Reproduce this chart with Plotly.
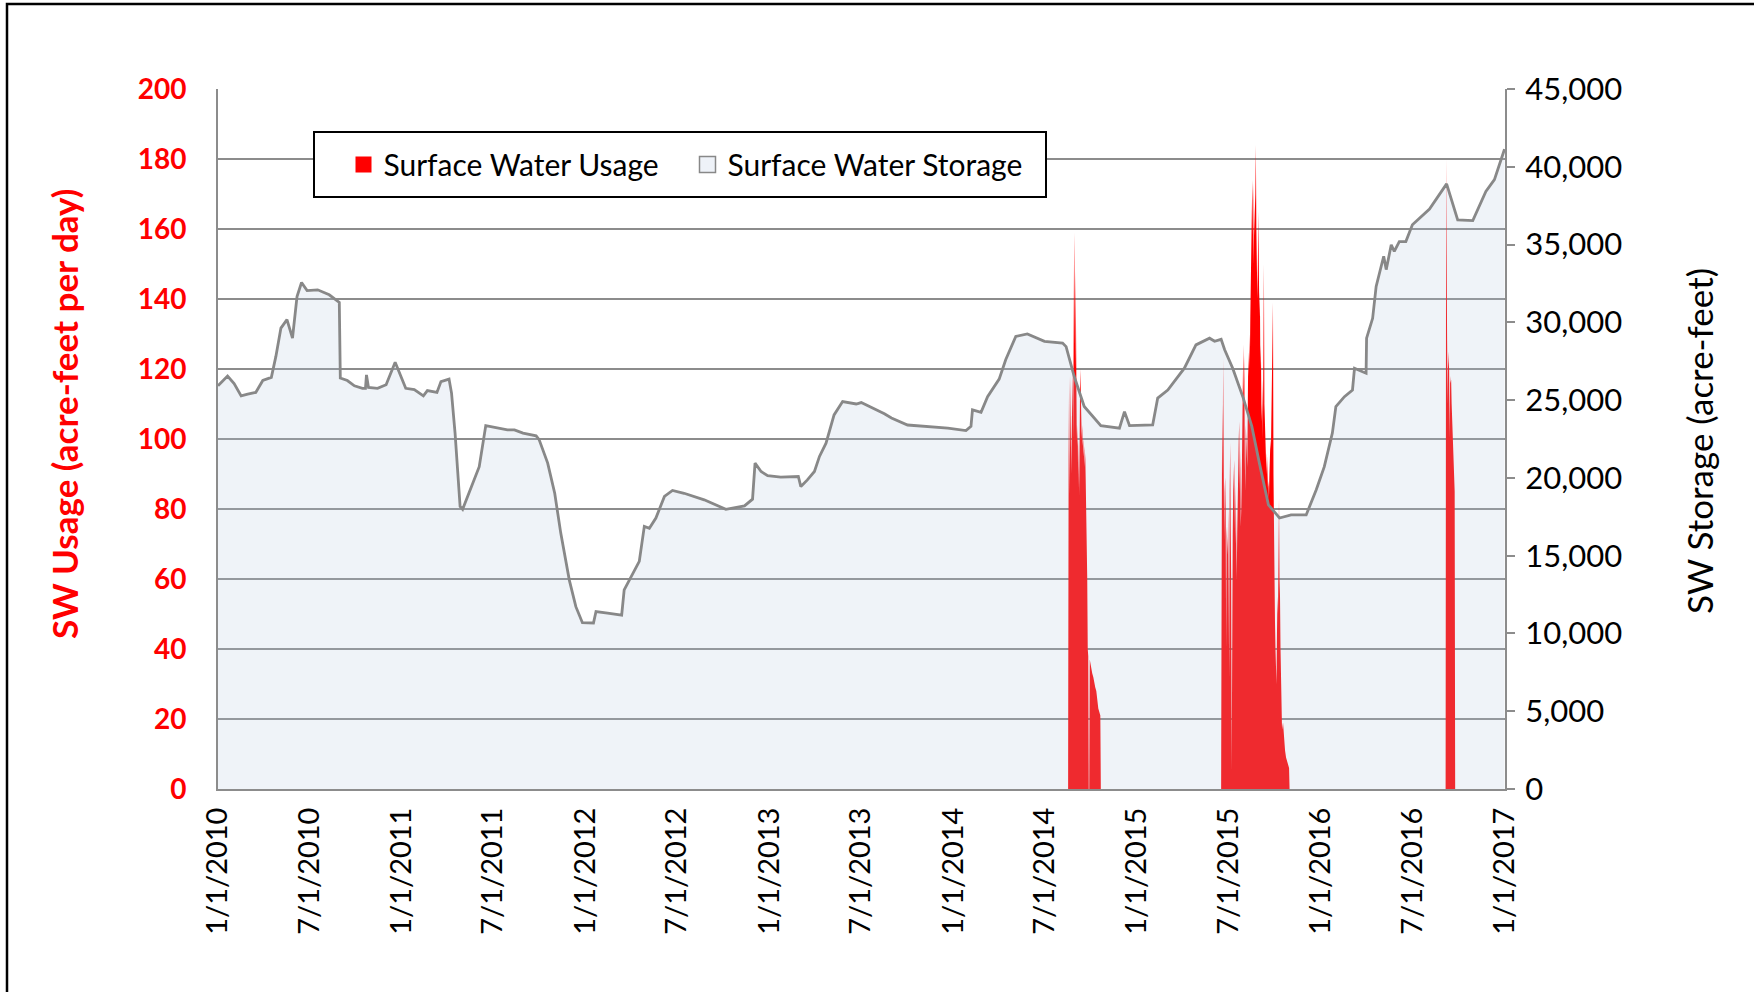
import plotly.graph_objects as go

# ---------------- data ----------------
storage_dates = [
    "2010-01-01", "2010-01-10", "2010-01-20", "2010-02-02", "2010-02-16", "2010-03-01", "2010-03-17",
    "2010-03-31", "2010-04-17", "2010-04-26", "2010-05-06", "2010-05-18", "2010-05-29", "2010-06-07",
    "2010-06-16", "2010-06-27", "2010-07-18", "2010-08-10", "2010-08-30", "2010-09-01", "2010-09-15",
    "2010-09-29", "2010-10-15", "2010-10-21", "2010-10-23", "2010-10-27", "2010-11-14", "2010-12-01",
    "2010-12-19", "2011-01-09", "2011-01-26", "2011-02-13", "2011-02-21", "2011-03-12", "2011-03-20",
    "2011-04-05", "2011-04-10", "2011-04-17", "2011-04-27", "2011-05-02", "2011-05-15", "2011-05-25",
    "2011-06-04", "2011-06-17", "2011-07-10", "2011-07-30", "2011-08-13", "2011-08-30", "2011-09-25",
    "2011-10-01", "2011-10-18", "2011-11-01", "2011-11-13", "2011-11-30", "2011-12-13", "2011-12-26",
    "2012-01-17", "2012-01-22", "2012-02-14", "2012-03-13", "2012-03-18", "2012-04-04", "2012-04-17",
    "2012-04-27", "2012-05-07", "2012-05-20", "2012-06-06", "2012-06-22", "2012-07-15", "2012-08-24",
    "2012-10-06", "2012-11-12", "2012-11-28", "2012-12-03", "2012-12-15", "2012-12-28", "2013-01-23",
    "2013-02-27", "2013-03-04", "2013-03-17", "2013-03-31", "2013-04-10", "2013-04-23", "2013-05-09",
    "2013-05-26", "2013-06-22", "2013-07-02", "2013-08-17", "2013-08-31", "2013-10-02", "2013-11-04",
    "2013-12-21", "2014-01-26", "2014-02-05", "2014-02-08", "2014-02-25", "2014-03-10", "2014-04-02",
    "2014-04-15", "2014-05-05", "2014-05-28", "2014-07-01", "2014-08-06", "2014-08-13", "2014-08-29",
    "2014-09-18", "2014-10-21", "2014-11-27", "2014-12-07", "2014-12-17", "2015-02-01", "2015-02-11",
    "2015-03-03", "2015-04-05", "2015-04-28", "2015-05-25", "2015-06-04", "2015-06-17", "2015-06-24",
    "2015-07-10", "2015-07-31", "2015-08-17", "2015-09-01", "2015-09-19", "2015-10-11", "2015-11-03",
    "2015-12-03", "2015-12-23", "2016-01-08", "2016-01-24", "2016-01-31", "2016-02-17", "2016-03-04",
    "2016-03-08", "2016-03-24", "2016-03-31", "2016-04-01", "2016-04-13", "2016-04-20", "2016-05-05",
    "2016-05-10", "2016-05-20", "2016-05-26", "2016-06-05", "2016-06-18", "2016-07-01", "2016-08-04",
    "2016-09-07", "2016-09-29", "2016-10-29", "2016-11-24", "2016-12-11", "2016-12-31",
]
storage_af = [
    25920, 26190, 26550, 26060, 25270, 25380, 25490,
    26260, 26460, 27810, 29630, 30170, 28980, 31660,
    32560, 32040, 32090, 31770, 31280, 26420, 26260,
    25920, 25760, 25760, 26620, 25810, 25760, 25990,
    27430, 25760, 25670, 25270, 25610, 25490, 26190,
    26350, 25450, 22880, 18160, 17980, 19010, 19870,
    20720, 23360, 23200, 23090, 23090, 22880, 22700,
    22460, 20950, 19010, 16450, 13430, 11720, 10690,
    10670, 11410, 11300, 11180, 12800, 13880, 14630,
    16880, 16760, 17420, 18810, 19190, 19010, 18590,
    17980, 18200, 18630, 20950, 20410, 20140, 20050,
    20090, 19440, 19870, 20410, 21380, 22230, 24050,
    24910, 24750, 24840, 24120, 23850, 23400, 23310,
    23200, 23040, 23310, 24370, 24210, 25220, 26350,
    27590, 29090, 29250, 28780, 28670, 28440, 26530,
    24590, 23360, 23200, 24260, 23360, 23400, 25130,
    25650, 27050, 28550, 28980, 28780, 28910, 28240,
    27050, 25130, 23310, 20950, 18270, 17420, 17620,
    17620, 19240, 20720, 22880, 24590, 25220, 25650,
    27050, 26820, 26730, 28980, 30260, 32310, 34250,
    33390, 34990, 34560, 35190, 35190, 36270, 37280,
    38900, 36590, 36540, 38410, 39170, 41130,
]

usage_dates = [
    "2010-01-01", "2014-08-17",
    "2014-08-18", "2014-08-19", "2014-08-20", "2014-08-21", "2014-08-22", "2014-08-23", "2014-08-24",
    "2014-08-25", "2014-08-26", "2014-08-27", "2014-08-28", "2014-08-29", "2014-08-30", "2014-08-31",
    "2014-09-01", "2014-09-02", "2014-09-03", "2014-09-04", "2014-09-05", "2014-09-06", "2014-09-07",
    "2014-09-08", "2014-09-09", "2014-09-10", "2014-09-11", "2014-09-12", "2014-09-13", "2014-09-14",
    "2014-09-15", "2014-09-16", "2014-09-17", "2014-09-18", "2014-09-19", "2014-09-20", "2014-09-21",
    "2014-09-22", "2014-09-23", "2014-09-24", "2014-09-25", "2014-09-26", "2014-09-27", "2014-09-28",
    "2014-09-29", "2014-09-30", "2014-10-02", "2014-10-04", "2014-10-06", "2014-10-08", "2014-10-10",
    "2014-10-12", "2014-10-14", "2014-10-16", "2014-10-18", "2014-10-20", "2014-10-21",
    "2015-06-17",
    "2015-06-18", "2015-06-19", "2015-06-20", "2015-06-21", "2015-06-22", "2015-06-23", "2015-06-24",
    "2015-06-25", "2015-06-26", "2015-06-27", "2015-06-28", "2015-06-29", "2015-06-30", "2015-07-01",
    "2015-07-02", "2015-07-03", "2015-07-04", "2015-07-05", "2015-07-06", "2015-07-07", "2015-07-08",
    "2015-07-09", "2015-07-10", "2015-07-11", "2015-07-12", "2015-07-13", "2015-07-14", "2015-07-15",
    "2015-07-16", "2015-07-17", "2015-07-18", "2015-07-19", "2015-07-20", "2015-07-21", "2015-07-22",
    "2015-07-23", "2015-07-24", "2015-07-25", "2015-07-26", "2015-07-27", "2015-07-28", "2015-07-29",
    "2015-07-30", "2015-07-31", "2015-08-01", "2015-08-02", "2015-08-03", "2015-08-04", "2015-08-05",
    "2015-08-06", "2015-08-07", "2015-08-08", "2015-08-09", "2015-08-10", "2015-08-11", "2015-08-12",
    "2015-08-13", "2015-08-14", "2015-08-15", "2015-08-16", "2015-08-17", "2015-08-18", "2015-08-19",
    "2015-08-20", "2015-08-21", "2015-08-22", "2015-08-23", "2015-08-24", "2015-08-25", "2015-08-26",
    "2015-08-27", "2015-08-28", "2015-08-29", "2015-08-30", "2015-08-31", "2015-09-01", "2015-09-02",
    "2015-09-03", "2015-09-04", "2015-09-05", "2015-09-06", "2015-09-07", "2015-09-08", "2015-09-09",
    "2015-09-10", "2015-09-11", "2015-09-12", "2015-09-13", "2015-09-14", "2015-09-15", "2015-09-16",
    "2015-09-17", "2015-09-18", "2015-09-19", "2015-09-20", "2015-09-21", "2015-09-22", "2015-09-23",
    "2015-09-24", "2015-09-25", "2015-09-26", "2015-09-27", "2015-09-28", "2015-09-29", "2015-09-30",
    "2015-10-01", "2015-10-02", "2015-10-03", "2015-10-04", "2015-10-05", "2015-10-06", "2015-10-07",
    "2015-10-08", "2015-10-09", "2015-10-10", "2015-10-11", "2015-10-12", "2015-10-13", "2015-10-14",
    "2015-10-15", "2015-10-16", "2015-10-18", "2015-10-20", "2015-10-22", "2015-10-24", "2015-10-27",
    "2015-10-30", "2015-10-31",
    "2016-09-05",
    "2016-09-06", "2016-09-07", "2016-09-08", "2016-09-09", "2016-09-10", "2016-09-11", "2016-09-12",
    "2016-09-13", "2016-09-14", "2016-09-15", "2016-09-16", "2016-09-17", "2016-09-18", "2016-09-19",
    "2016-09-20", "2016-09-21", "2016-09-22", "2016-09-23", "2016-09-24",
    "2017-01-01",
]
usage_afd = [
    0, 0,
    95, 118, 84, 112, 118, 90, 110,
    105, 120, 100, 145, 159, 140, 120,
    148, 110, 104, 98, 104, 86, 100,
    84, 112, 120, 115, 105, 100, 104,
    98, 100, 95, 98, 92, 96, 88,
    80, 78, 60, 40, 38, 0, 0,
    37, 36, 35, 33, 32, 30, 29,
    28, 25, 23, 22, 21, 0,
    0,
    60, 110, 90, 123, 95, 71, 85,
    89, 80, 40, 75, 70, 67, 80,
    60, 32, 85, 99, 75, 60, 5,
    65, 72, 85, 90, 94, 80, 70,
    87, 78, 60, 73, 88, 95, 100,
    105, 85, 97, 75, 80, 89, 110,
    118, 127, 110, 124, 95, 85, 104,
    98, 100, 92, 110, 125, 118, 130,
    120, 135, 142, 155, 165, 174, 160,
    150, 173, 158, 165, 170, 184, 160,
    154, 140, 150, 165, 148, 135, 142,
    120, 127, 110, 105, 117, 100, 125,
    150, 110, 104, 95, 98, 90, 96,
    92, 86, 88, 83, 90, 95, 100,
    97, 105, 120, 130, 139, 90, 67,
    55, 48, 40, 35, 30, 45, 55,
    50, 60, 83, 60, 55, 40, 25,
    20, 17, 19, 14, 11, 9, 7,
    6, 0,
    0,
    180, 132, 128, 110, 125, 122, 120,
    100, 118, 116, 117, 110, 105, 100,
    96, 92, 89, 85, 0,
    0,
]

x_tick_dates = [
    "2010-01-01", "2010-07-01", "2011-01-01", "2011-07-01", "2012-01-01", "2012-07-01",
    "2013-01-01", "2013-07-01", "2014-01-01", "2014-07-01", "2015-01-01", "2015-07-01",
    "2016-01-01", "2016-07-01", "2017-01-01",
]
x_tick_labels = [
    "1/1/2010", "7/1/2010", "1/1/2011", "7/1/2011", "1/1/2012", "7/1/2012",
    "1/1/2013", "7/1/2013", "1/1/2014", "7/1/2014", "1/1/2015", "7/1/2015",
    "1/1/2016", "7/1/2016", "1/1/2017",
]

FONT = "Lato"
GRID = "#8c8c8c"

# plot-area geometry (page pixels) used to place paper-referenced decorations
W, H = 1754, 992
PL, PR, PT, PB = 218, 1505, 89, 789


def px(xp):
    return (xp - PL) / (PR - PL)


def py(yp):
    return (PB - yp) / (PB - PT)


fig = go.Figure()

fig.add_trace(go.Scatter(
    x=usage_dates, y=usage_afd, name="Surface Water Usage",
    mode="lines", line=dict(color="#ff0000", width=0),
    fill="tozeroy", fillcolor="#ff0000", showlegend=False, yaxis="y",
))
fig.add_trace(go.Scatter(
    x=storage_dates, y=storage_af, name="Surface Water Storage",
    mode="lines", line=dict(color="#888888", width=2.8),
    fill="tozeroy", fillcolor="rgba(180,198,222,0.21)", showlegend=False, yaxis="y2",
))
# legend entries
fig.add_trace(go.Scatter(
    x=[None], y=[None], mode="markers", name="Surface Water Usage",
    marker=dict(symbol="square", size=16, color="#ff0000"),
))
fig.add_trace(go.Scatter(
    x=[None], y=[None], mode="markers", name="Surface Water Storage",
    marker=dict(symbol="square", size=16, color="#eef2f8", line=dict(color="#888888", width=1.5)),
))

fig.update_layout(
    width=W, height=H,
    paper_bgcolor="white", plot_bgcolor="white",
    margin=dict(l=PL, r=W - PR, t=PT, b=H - PB, autoexpand=False),
    font=dict(family=FONT, color="black"),
    xaxis=dict(
        type="date", range=["2010-01-01", "2017-01-01"],
        tickmode="array", tickvals=x_tick_dates, ticktext=x_tick_labels,
        tickangle=-90, tickfont=dict(size=29, family=FONT, color="black"),
        showgrid=False, showline=True, linecolor=GRID, linewidth=2,
        ticks="", ticklabelstandoff=5, zeroline=False,
    ),
    yaxis=dict(
        range=[0, 200], dtick=20, tick0=0,
        tickfont=dict(size=28, family=FONT, color="#ff0000", weight="bold"),
        showgrid=True, gridcolor=GRID, gridwidth=1.5,
        showline=True, linecolor=GRID, linewidth=2,
        ticks="", ticklabelstandoff=24, zeroline=False,
    ),
    yaxis2=dict(
        range=[0, 45000], dtick=5000, tick0=0, overlaying="y", side="right",
        tickformat=",d", tickfont=dict(size=31, family=FONT, color="black"),
        showgrid=False, showline=True, linecolor=GRID, linewidth=2,
        ticks="outside", ticklen=8, tickcolor=GRID, tickwidth=2,
        ticklabelstandoff=4, zeroline=False,
    ),
    legend=dict(
        orientation="h", x=px(343.5), y=py(164.5), xanchor="left", yanchor="middle",
        bgcolor="rgba(0,0,0,0)", borderwidth=0,
        font=dict(size=30, family=FONT, color="black"),
        entrywidth=299, entrywidthmode="pixels",
    ),
    showlegend=True,
)

# legend frame
fig.add_shape(
    type="rect", xref="paper", yref="paper",
    x0=px(314), x1=px(1046), y0=py(197), y1=py(132),
    line=dict(color="black", width=2), fillcolor="white", layer="above",
)

fig.add_annotation(
    text="<b>SW Usage (acre-feet per day)</b>", xref="paper", yref="paper",
    x=px(64), y=py(414), textangle=-90, showarrow=False,
    font=dict(size=35, family=FONT, color="#ff0000"), xanchor="center", yanchor="middle",
)
fig.add_annotation(
    text="SW Storage (acre-feet)", xref="paper", yref="paper",
    x=px(1699), y=py(441), textangle=-90, showarrow=False,
    font=dict(size=35, family=FONT, color="black"), xanchor="center", yanchor="middle",
)
# outer frame
fig.add_shape(
    type="rect", xref="paper", yref="paper",
    x0=px(7), x1=px(1775), y0=py(1010), y1=py(4),
    line=dict(color="black", width=2.5), fillcolor="rgba(0,0,0,0)", layer="below",
)

fig.write_html(
    "out.html",
    config={"displayModeBar": False},
    post_script="document.body.style.margin='0';document.body.style.overflow='hidden';",
)
